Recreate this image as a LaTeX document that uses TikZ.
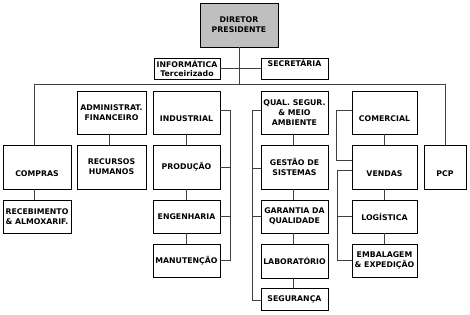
\documentclass[tikz,border=0pt]{standalone}
\usepackage{fontspec}
\setmainfont{DejaVu Sans}
\newcommand{\lowtext}[1]{\raisebox{-9.3pt}[0pt][0pt]{#1}}
\begin{document}
\begin{tikzpicture}[x=1pt,y=-1pt,
  box/.style={draw=black,line width=0.9pt,fill=white,inner sep=0pt,align=center,
    font=\fontsize{7.8}{9.8}\selectfont\bfseries},
  conn/.style={draw=black!75,line width=0.9pt}]
\useasboundingbox (0,0) rectangle (470,314);
% nodes
\node[box,fill=black!25,minimum width=78,minimum height=44] (dir) at (239,25) {DIRETOR\\PRESIDENTE};
\node[box,minimum width=66,minimum height=21] (info) at (187,68.5) {INFORMÁTICA\\Terceirizado};
\node[box,minimum width=67,minimum height=21] (sec) at (294.5,68.5) {\raisebox{2pt}[0pt][0pt]{SECRETÁRIA}};
\node[box,minimum width=69,minimum height=43] (adm) at (111.5,112.5) {ADMINISTRAT.\\FINANCEIRO};
\node[box,minimum width=67,minimum height=43] (ind) at (186.5,112.5) {\lowtext{INDUSTRIAL}};
\node[box,minimum width=67,minimum height=43] (qual) at (294.5,112.5) {QUAL. SEGUR.\\\& MEIO\\AMBIENTE};
\node[box,minimum width=65,minimum height=43] (com) at (384.5,112.5) {\lowtext{COMERCIAL}};
\node[box,minimum width=68,minimum height=44] (comp) at (37,167) {\lowtext{COMPRAS}};
\node[box,minimum width=69,minimum height=44] (rh) at (111.5,167) {RECURSOS\\HUMANOS};
\node[box,minimum width=67,minimum height=44] (prod) at (186.5,167) {PRODUÇÃO};
\node[box,minimum width=67,minimum height=44] (gest) at (294.5,167) {GESTÃO DE\\SISTEMAS};
\node[box,minimum width=65,minimum height=44] (vend) at (384.5,167) {\lowtext{VENDAS}};
\node[box,minimum width=42,minimum height=44] (pcp) at (445,167) {\lowtext{PCP}};
\node[box,minimum width=68,minimum height=33] (rec) at (37,216.5) {RECEBIMENTO\\\& ALMOXARIF.};
\node[box,minimum width=67,minimum height=33] (eng) at (186.5,216.5) {ENGENHARIA};
\node[box,minimum width=67,minimum height=33] (gar) at (294.5,216.5) {GARANTIA DA\\QUALIDADE};
\node[box,minimum width=65,minimum height=33] (log) at (384.5,216.5) {LOGÍSTICA};
\node[box,minimum width=67,minimum height=33] (man) at (186.5,260.5) {MANUTENÇÃO};
\node[box,minimum width=67,minimum height=34] (lab) at (294.5,261) {LABORATÓRIO};
\node[box,minimum width=65,minimum height=33] (emb) at (384.5,260.5) {EMBALAGEM\\\& EXPEDIÇÃO};
\node[box,minimum width=67,minimum height=22] (seg) at (294.5,299) {SEGURANÇA};
% helper coordinates
\coordinate (busL) at (34,84);
\coordinate (busR) at (445,84);
\coordinate (bi) at (230,0);
\coordinate (bq) at (252,0);
\coordinate (bc) at (336,0);
\coordinate (bv) at (337,0);
\coordinate (indE) at ([yshift=2pt]ind.east);
\coordinate (qualW) at ([yshift=2pt]qual.west);
\coordinate (segW) at ([yshift=-1pt]seg.west);
\coordinate (gestW) at ([yshift=-1pt]gest.west);
\coordinate (comW) at ([yshift=2pt]com.west);
\coordinate (vendA) at ([yshift=7pt]vend.west);
\coordinate (vendB) at ([yshift=-3pt]vend.west);
% trunk and bus
\draw[conn] (dir.south) -- (dir.south |- busL);
\draw[conn] (busL) -- (busR);
\draw[conn] (info.east) -- (sec.west);
\draw[conn] (busL) -- (busL |- comp.north);
\draw[conn] (busR) -- (pcp.north);
% vertical stacks
\draw[conn] (busL |- comp.south) -- (busL |- rec.north);
\draw[conn] ([xshift=-2pt]adm.south) -- ([xshift=-2pt]rh.north);
\draw[conn] (ind.south) -- (prod.north);
\draw[conn] (prod.south) -- (eng.north);
\draw[conn] (eng.south) -- (man.north);
\draw[conn] ([xshift=-1pt]qual.south) -- ([xshift=-1pt]gest.north);
\draw[conn] ([xshift=-1pt]gest.south) -- ([xshift=-1pt]gar.north);
\draw[conn] ([xshift=-1pt]gar.south) -- ([xshift=-1pt]lab.north);
\draw[conn] ([xshift=-1pt]lab.south) -- ([xshift=-1pt]seg.north);
\draw[conn] (com.south) -- (vend.north);
\draw[conn] (vend.south) -- (log.north);
\draw[conn] (log.south) -- (emb.north);
% industrial bracket
\draw[conn] (indE) -- (indE -| bi) -- (bi |- man.east) -- (man.east);
\draw[conn] (prod.east) -- (prod.east -| bi);
\draw[conn] (eng.east) -- (eng.east -| bi);
% quality bracket
\draw[conn] (qualW) -- (qualW -| bq) -- (bq |- segW) -- (segW);
\draw[conn] (gestW) -- (gestW -| bq);
\draw[conn] (gar.west) -- (gar.west -| bq);
% commercial brackets
\draw[conn] (comW) -- (comW -| bc) -- (bc |- vendA) -- (vendA);
\draw[conn] (vendB) -- (vendB -| bv) -- (bv |- emb.west) -- (emb.west);
\draw[conn] (log.west) -- (log.west -| bv);
\end{tikzpicture}
\end{document}
